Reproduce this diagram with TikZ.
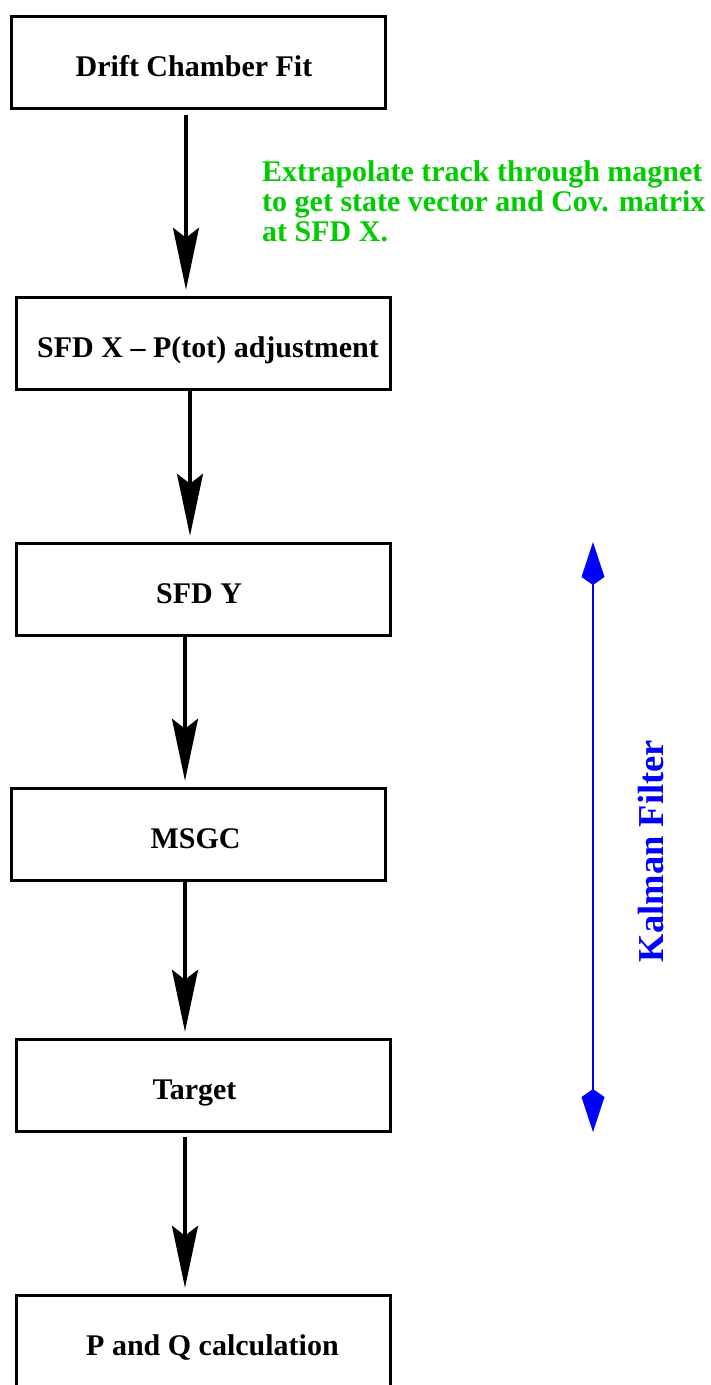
\documentclass[tikz,border=0pt]{standalone}
\usepackage{fontspec}
\setmainfont{Liberation Serif}
\usetikzlibrary{arrows.meta}
\definecolor{notegreen}{RGB}{0,205,0}
\tikzset{
  stage/.style={draw, line width=3.5pt, minimum width=374pt, minimum height=92pt,
    text height=27pt, text depth=0pt,
    font=\fontsize{30}{30}\selectfont\bfseries},
  flow/.style={line width=3.2pt, -{Stealth[length=62pt,width=26pt,inset=10pt]}},
  kalman/.style={blue, line width=2.2pt,
    {Kite[length=43pt,width=23pt,inset=8pt]}-{Kite[length=43pt,width=23pt,inset=8pt]}},
  note/.style={text=notegreen, align=left, inner sep=0pt,
    font=\fontsize{30}{30}\selectfont\bfseries}
}
\begin{document}
\begin{tikzpicture}[x=1pt,y=-1pt]
\useasboundingbox (0,0) rectangle (711,1385);
\clip (0,0) rectangle (711,1385);
\node[stage] (drift) at (198.5,62.5) {Drift Chamber Fit\hspace*{9pt}};
\node[stage] (sfdx) at (203.5,343.5) {\hspace*{9pt}SFD X -- P(tot) adjustment};
\node[stage] (sfdy) at (203.5,589.5) {SFD Y\hspace*{9pt}};
\node[stage] (msgc) at (198.5,834.5) {MSGC\hspace*{6pt}};
\node[stage] (target) at (203.5,1085.5) {Target\hspace*{18pt}};
\node[stage] (pq) at (203.5,1341.5) {\hspace*{18pt}P and Q calculation};
\draw[flow] ([xshift=-12.5pt,yshift=-5pt]drift.south) -- ([xshift=-17.5pt,yshift=6pt]sfdx.north);
\draw[flow] ([xshift=-13.5pt]sfdx.south) -- ([xshift=-13.5pt,yshift=6pt]sfdy.north);
\draw[flow] ([xshift=-18.5pt]sfdy.south) -- ([xshift=-13.5pt,yshift=6pt]msgc.north);
\draw[flow] ([xshift=-13.5pt]msgc.south) -- ([xshift=-18.5pt,yshift=6pt]target.north);
\draw[flow] ([xshift=-18.5pt,yshift=-4pt]target.south) -- ([xshift=-18.5pt,yshift=6pt]pq.north);
\node[note, anchor=north west] (extrap) at (262,160)
  {Extrapolate track through magnet\\to get state vector and Cov. matrix\\at SFD X.};
\coordinate (kftop) at (593,542);
\coordinate (kfbot) at (593,1132);
\draw[kalman] (kftop) -- (kfbot);
\node[rotate=90, text=blue, font=\fontsize{36.5}{36.5}\selectfont\bfseries] (kf) at (651,851) {Kalman Filter};
\end{tikzpicture}
\end{document}
